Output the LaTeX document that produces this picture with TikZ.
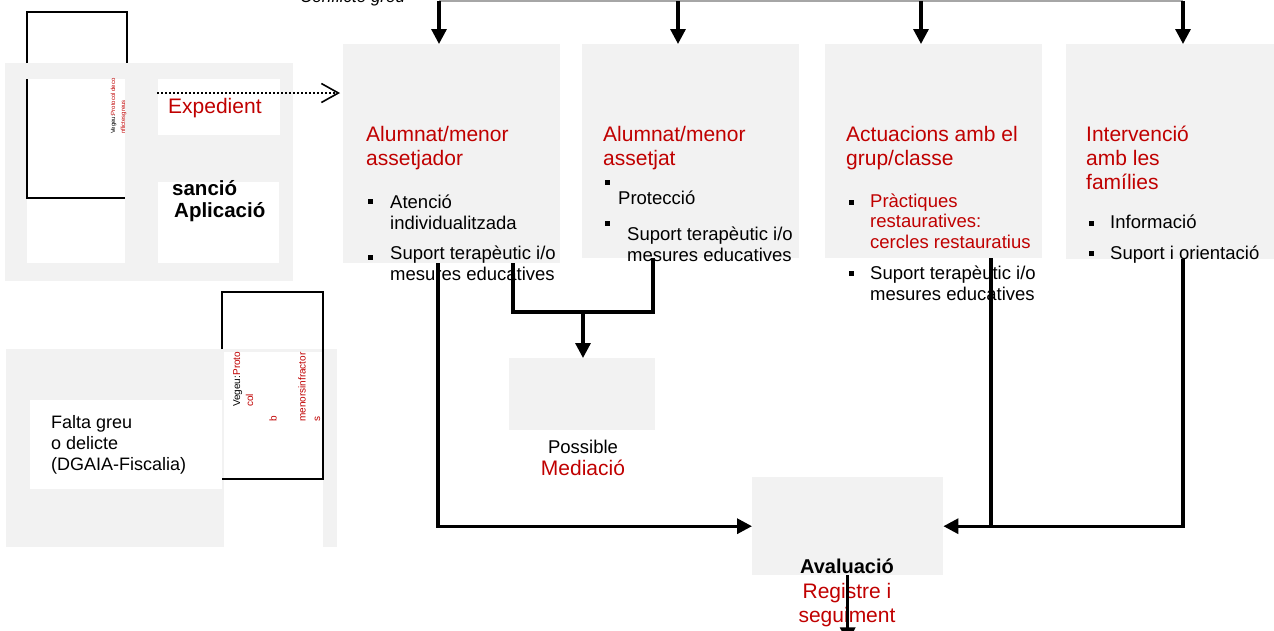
\documentclass[tikz,border=0pt]{standalone}
\usepackage{fontspec}
\setmainfont{Liberation Sans}
\usetikzlibrary{positioning,arrows.meta}
\definecolor{vermell}{HTML}{C00000}
\definecolor{gris}{HTML}{F2F2F2}
\newcommand{\mida}[2]{\fontsize{#1}{#2}\selectfont}

\begin{document}
\begin{tikzpicture}[x=1pt,y=-1pt,
    caixa/.style={fill=gris,inner sep=0pt,anchor=north west},
    blanca/.style={fill=white,inner sep=0pt,anchor=north west},
    titol/.style={text=vermell,font=\mida{21}{24},align=left,anchor=base west,inner sep=0pt},
    punt/.style={font=\mida{18.5}{20.5},align=left,anchor=base west,inner sep=0pt},
    quadret/.style={fill=black,minimum size=5pt,inner sep=0pt},
    girat/.style={rotate=90,align=left,anchor=base west,inner sep=0pt},
    marc/.style={line width=2.6pt},
    linia/.style={line width=3.2pt},
    fletxa/.style={line width=3.2pt,-{Triangle[length=15pt,width=15pt]}}]
\useasboundingbox (0,0) rectangle (1274,630);

    \node[caixa,minimum width=288pt,minimum height=218pt] (sanc) at (5,63) {};
    \node[blanca,minimum width=98pt,minimum height=184pt] (sanc1) at (27,79) {};
    \node[blanca,minimum width=122pt,minimum height=56pt] (exp) at (158,79) {};
    \node[blanca,minimum width=121pt,minimum height=81pt] (apl) at (158,182) {};
    \node[caixa,minimum width=331pt,minimum height=198pt] (falta) at (6,349) {};
    \node[blanca,minimum width=192pt,minimum height=89pt] (falta1) at (30,400) {};
    \node[blanca,minimum width=99pt,minimum height=195pt] (falta2) at (224,352) {};

    \node[caixa,minimum width=217pt,minimum height=219pt] (agr) at (343,44) {};
    \node[caixa,minimum width=217pt,minimum height=214pt] (agt) at (582,44) {};
    \node[caixa,minimum width=217pt,minimum height=214pt] (grp) at (825,44) {};
    \node[caixa,minimum width=208pt,minimum height=215pt] (fam) at (1066,44) {};
    \node[caixa,minimum width=146pt,minimum height=72pt] (med) at (509,358) {};
    \node[caixa,minimum width=191pt,minimum height=98pt] (aval) at (752,477) {};

    \draw[marc] (27,63) -- (27,12) -- (127,12) -- (127,63);
    \draw[marc] (27,79) -- (27,198) -- (125,198);
    \draw[marc] (222,349) -- (222,292) -- (323,292) -- (323,479) -- (222,479);

    \node[font=\mida{17}{20}\itshape,anchor=base west,inner sep=0pt] (confl) at (300,2) {Conflicte greu};
    \node[girat,font=\mida{6}{10}] (veg1) at (125,134) {Vegeu:\textcolor{vermell}{Protocol deco}\\\textcolor{vermell}{nflictesgreus}};
    \node[girat,font=\mida{10}{13}] (veg2) at (253,407) {Vegeu:\textcolor{vermell}{Proto}\\\textcolor{vermell}{col}};
    \node[girat,font=\mida{10}{14.5},text=vermell] (veg3) at (320,422) {b\\ \\menorsinfractor\\s};
    \node[font=\mida{21}{24},text=vermell,anchor=base west,inner sep=0pt] (texp) at (168,113) {Expedient};
    \node[font=\mida{20.5}{22}\bfseries,align=left,anchor=base west,inner sep=0pt] (tapl) at (172,217) {sanció\\\hspace*{2pt}Aplicació};
    \node[font=\mida{18}{21},align=left,anchor=base west,inner sep=0pt] (tfalta) at (51,470) {Falta greu\\o delicte\\(DGAIA-Fiscalia)};

    \node[titol] (tagr) at (366,165) {Alumnat/menor\\assetjador};
    \node[titol] (tagt) at (603,165) {Alumnat/menor\\assetjat};
    \node[titol] (tgrp) at (846,165) {Actuacions amb el\\grup/classe};
    \node[titol] (tfam) at (1086,189) {Intervenció\\amb les\\famílies};

    \foreach \x/\y [count=\i] in {370/201,370/257,607/182,607/223,851/202,851/273,1091/223,1091/253}
        \node[quadret] (q\i) at (\x,\y) {};
    \node[punt] (p1) at (390,229) {Atenció\\individualitzada};
    \node[punt] (p2) at (390,280) {Suport terapèutic i/o\\mesures educatives};
    \node[punt] (p3) at (618,204) {Protecció};
    \node[punt] (p4) at (627,261) {Suport terapèutic i/o\\mesures educatives};
    \node[punt,text=vermell] (p5) at (870,248) {Pràctiques\\restauratives:\\cercles restauratius};
    \node[punt] (p6) at (870,300) {Suport terapèutic i/o\\mesures educatives};
    \node[punt] (p7) at (1110,228) {Informació};
    \node[punt] (p8) at (1110,259) {Suport i orientació};

    \node[font=\mida{18.5}{21},anchor=base,inner sep=0pt] (poss) at (583,453) {Possible};
    \node[font=\mida{21}{24},text=vermell,anchor=base,inner sep=0pt] (tmed) at (583,475) {Mediació};
    \node[font=\mida{20}{24}\bfseries,anchor=base,inner sep=0pt] (taval) at (847,573) {Avaluació};
    \node[font=\mida{21}{24},text=vermell,align=center,anchor=base,inner sep=0pt] (treg) at (847,622) {Registre i\\seguiment};

    \draw[gray!70,line width=1.2pt] (439,1) -- (1183,1);
    \foreach \x/\n in {439/agr,678/agt,921/grp,1183/fam}
        \draw[fletxa] (\x,1) -- (\x,0 |- \n.north);
    \coordinate (dot) at (157,93);
    \draw[line width=2pt,dash pattern=on 2pt off 2pt,-{Straight Barb[length=17pt,width=19pt,line width=1.6pt]}] (dot) -- ([xshift=-3pt]dot -| agr.west);
    \coordinate (s1) at (438,0);
    \coordinate (s2) at (513,0);
    \coordinate (s3) at (653,0);
    \coordinate (mig) at (583,312);
    \draw[fletxa] (s1 |- agr.south) |- (aval.west);
    \draw[linia] (s2 |- agr.south) |- (mig) -| (s3 |- agt.south);
    \draw[fletxa] (mig) -- (mig |- med.north);
    \draw[linia] (991,258) -- (991,526);
    \draw[fletxa] (1183,259) |- (aval.east);
    \draw[fletxa] (aval.south) -- ++(0,67);
\end{tikzpicture}
\end{document}
